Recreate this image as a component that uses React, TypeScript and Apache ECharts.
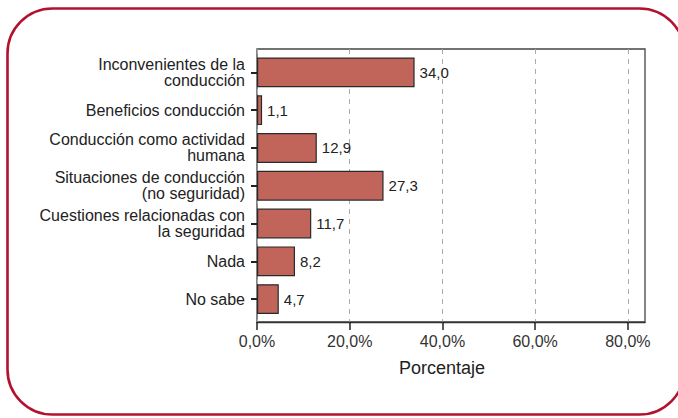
import React, { useEffect, useRef } from "react";
import * as echarts from "echarts";

const categories = [
  "Inconvenientes de la\nconducción",
  "Beneficios conducción",
  "Conducción como actividad\nhumana",
  "Situaciones de conducción\n(no seguridad)",
  "Cuestiones relacionadas con\nla seguridad",
  "Nada",
  "No sabe",
];
const values = [34.0, 1.1, 12.9, 27.3, 11.7, 8.2, 4.7];
const xTicks = [0, 20, 40, 60, 80];
const xMax = 83.7;

const FONT = "Liberation Sans, Arial, sans-serif";
const fmt = (v: number) => v.toFixed(1).replace(".", ",");

export default function App() {
  const ref = useRef<HTMLDivElement>(null);
  useEffect(() => {
    if (!ref.current) return;
    const chart = echarts.init(ref.current, null, { renderer: "svg" });
    chart.setOption({
      animation: false,
      textStyle: { fontFamily: FONT },
      graphic: [
        {
          type: "rect",
          shape: { x: 7.5, y: 8.5, width: 677, height: 406, r: 45 },
          style: { fill: "none", stroke: "#b3122f", lineWidth: 2.6 },
          silent: true,
        },
      ],
      grid: [
        { left: 257, right: 33, top: 49, bottom: 96, show: true, borderColor: "#444", borderWidth: 1.3, containLabel: false },
        { left: 257, right: 33, top: 53.5, bottom: 100, containLabel: false },
      ],
      xAxis: [
        {
          type: "value",
          gridIndex: 0,
          min: 0,
          max: xMax,
          interval: 20,
          axisLine: { show: true, lineStyle: { color: "#333", width: 1.3 } },
          axisTick: { show: true, length: 8, customValues: xTicks, lineStyle: { color: "#222", width: 1.5 } },
          axisLabel: {
            customValues: xTicks,
            formatter: (v: number) => fmt(v) + "%",
            color: "#333",
            fontSize: 16,
            margin: 11,
            fontFamily: FONT,
          },
          splitLine: { show: true, lineStyle: { color: "#aaa", type: [5, 5], width: 1 } },
          name: "Porcentaje",
          nameLocation: "middle",
          nameGap: 37,
          nameTextStyle: { fontSize: 18, color: "#222", fontFamily: FONT, padding: [0, 18, 0, 0] },
        },
        {
          type: "value",
          gridIndex: 1,
          min: 0,
          max: xMax,
          show: false,
        },
      ],
      yAxis: [
        { type: "value", gridIndex: 0, show: false },
        {
          type: "category",
          gridIndex: 1,
          inverse: true,
          data: categories,
          axisLine: { show: false },
          axisTick: { show: true, alignWithLabel: true, length: 6, lineStyle: { color: "#222", width: 2 } },
          axisLabel: {
            color: "#222",
            fontSize: 16,
            lineHeight: 16,
            margin: 12,
            align: "right",
            fontFamily: FONT,
          },
        },
      ],
      series: [
        {
          type: "bar",
          xAxisIndex: 1,
          yAxisIndex: 1,
          data: values,
          barWidth: "79%",
          itemStyle: { color: "#c1645a", borderColor: "#2a2a2a", borderWidth: 1.2 },
          label: {
            show: true,
            position: "right",
            distance: 5,
            formatter: (p: any) => fmt(p.value),
            color: "#222",
            fontSize: 15,
            fontFamily: FONT,
          },
        },
      ],
    });
    return () => chart.dispose();
  }, []);
  return (
    <div
      ref={ref}
      style={{ position: "fixed", left: 0, top: 0, width: 678, height: 418, background: "#fff" }}
    />
  );
}
